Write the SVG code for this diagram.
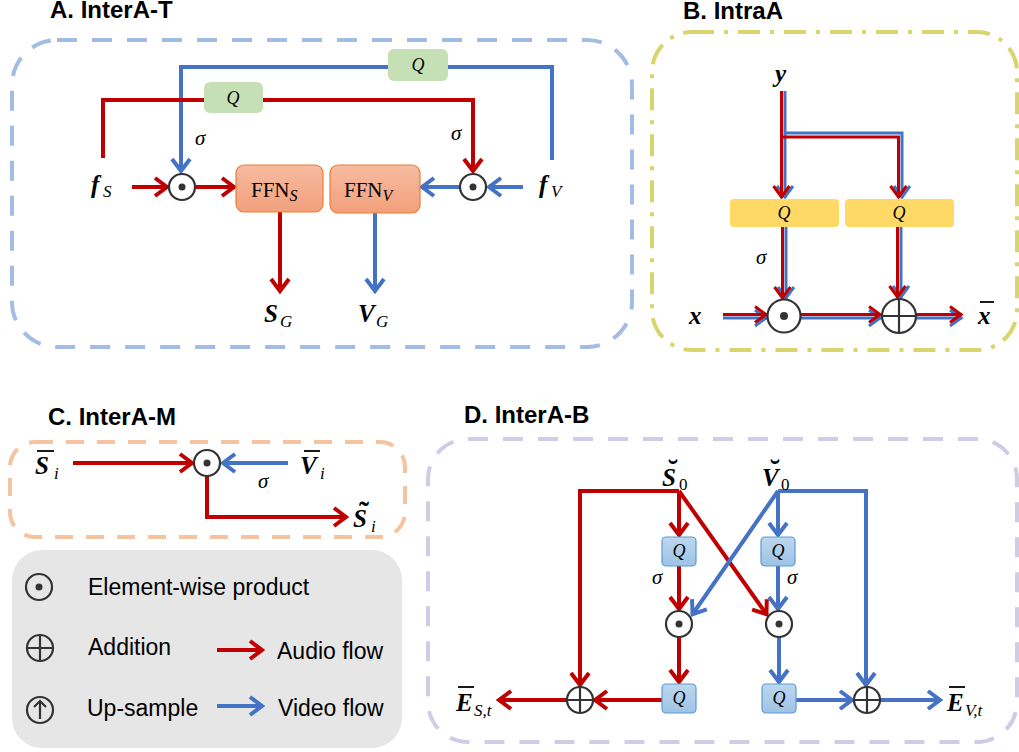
<svg xmlns="http://www.w3.org/2000/svg" width="1019" height="752" viewBox="0 0 1019 752">
  <style>
    .title { font-family: "Liberation Sans", Arial, sans-serif; font-weight: bold; font-size: 24px; fill: #000; }
    .legend { font-family: "Liberation Sans", Arial, sans-serif; font-size: 23px; fill: #000; }
    .math { font-family: "Liberation Serif", "DejaVu Serif", serif; font-style: italic; font-weight: bold; font-size: 25px; fill: #000; }
    .sub { font-family: "Liberation Serif", "DejaVu Serif", serif; font-style: italic; font-weight: normal; font-size: 17px; fill: #000; }
    .subr { font-family: "Liberation Serif", "DejaVu Serif", serif; font-style: normal; font-size: 17px; fill: #000; }
    .acc { font-family: "Liberation Serif", "DejaVu Serif", serif; font-weight: bold; font-size: 30px; fill: #000; text-anchor: middle; }
    .sig { font-family: "Liberation Serif", "DejaVu Serif", serif; font-style: italic; font-size: 21px; fill: #000; }
    .q { font-family: "Liberation Serif", "DejaVu Serif", serif; font-style: italic; font-size: 18px; fill: #000; text-anchor: middle; }
    .ffn { font-family: "Liberation Serif", "DejaVu Serif", serif; font-size: 21px; fill: #000; }
    .red { fill: none; stroke: #C00000; stroke-width: 4; }
    .blue { fill: none; stroke: #4472C4; stroke-width: 4; }
    .red3 { fill: none; stroke: #C00000; stroke-width: 3; }
    .blue3 { fill: none; stroke: #4472C4; stroke-width: 3; }
    .op { fill: #fff; stroke: #333; stroke-width: 2.2; }
    .opl { fill: none; stroke: #333; stroke-width: 2.2; }
    .dot { fill: #333; }
    .bar { stroke: #000; stroke-width: 1.8; }
    .gq { fill: #C5E0B4; }
    .yq { fill: #FFD966; }
    .bq { fill: url(#bqFill); stroke: #5B9BD5; stroke-width: 1.2; }
    .ffnbox { fill: url(#ffnFill); stroke: #ED7D31; stroke-width: 1.2; }
  </style>
  <defs>
    <linearGradient id="ffnFill" x1="0" y1="0" x2="0" y2="1">
      <stop offset="0" stop-color="#F6BBA0"/>
      <stop offset="1" stop-color="#F3A07C"/>
    </linearGradient>
    <linearGradient id="bqFill" x1="0" y1="0" x2="0" y2="1">
      <stop offset="0" stop-color="#BDD7EE"/>
      <stop offset="1" stop-color="#9DC3E6"/>
    </linearGradient>
    <marker id="mr" viewBox="-16 -11 18 22" refX="0" refY="0" markerWidth="18" markerHeight="22" markerUnits="userSpaceOnUse" orient="auto">
      <path d="M-13,-9 L-1,0 L-13,9" fill="none" stroke="#C00000" stroke-width="4"/>
    </marker>
    <marker id="mb" viewBox="-16 -11 18 22" refX="0" refY="0" markerWidth="18" markerHeight="22" markerUnits="userSpaceOnUse" orient="auto">
      <path d="M-13,-9 L-1,0 L-13,9" fill="none" stroke="#4472C4" stroke-width="4"/>
    </marker>
    <marker id="mr3" viewBox="-16 -11 18 22" refX="0" refY="0" markerWidth="18" markerHeight="22" markerUnits="userSpaceOnUse" orient="auto">
      <path d="M-12,-8 L-1,0 L-12,8" fill="none" stroke="#C00000" stroke-width="3"/>
    </marker>
    <marker id="mb3" viewBox="-16 -11 18 22" refX="0" refY="0" markerWidth="18" markerHeight="22" markerUnits="userSpaceOnUse" orient="auto">
      <path d="M-12,-8 L-1,0 L-12,8" fill="none" stroke="#4472C4" stroke-width="3"/>
    </marker>
  </defs>

  <!-- ===== Panel A: InterA-T ===== -->
  <g id="panelA">
    <text class="title" x="50" y="18">A. InterA-T</text>
    <rect x="12" y="40" width="620" height="307" rx="45" fill="none" stroke="#A3BCE3" stroke-width="4" stroke-dasharray="20 15"/>
  </g>
  <g id="A-connectors">
    <path class="blue" d="M552,160 V67 H181 V172" marker-end="url(#mb)"/>
    <path class="red" d="M103,158 V100 H473 V172" marker-end="url(#mr)"/>
    <path class="red" d="M132,187 H168" marker-end="url(#mr)"/>
    <path class="red" d="M196,187 H235" marker-end="url(#mr)"/>
    <path class="blue" d="M460,187 H421" marker-end="url(#mb)"/>
    <path class="blue" d="M523,187 H488" marker-end="url(#mb)"/>
    <path class="red" d="M280,212 V292" marker-end="url(#mr)"/>
    <path class="blue" d="M375,213 V292" marker-end="url(#mb)"/>
  </g>
  <g id="A-qv">
    <rect class="gq" x="388" y="49" width="60" height="32" rx="6"/>
    <text class="q" x="418" y="71">Q</text>
  </g>
  <g id="A-qs">
    <rect class="gq" x="204" y="82" width="59" height="31" rx="6"/>
    <text class="q" x="233" y="104">Q</text>
  </g>
  <g id="A-sigma">
    <text class="sig" x="195" y="145">σ</text>
    <text class="sig" x="451" y="140">σ</text>
  </g>
  <g id="A-fs">
    <text class="math" x="91" y="193" font-size="27">f</text>
    <text class="sub" x="103" y="197">S</text>
  </g>
  <g id="A-fv">
    <text class="math" x="539" y="193" font-size="27">f</text>
    <text class="sub" x="551" y="197">V</text>
  </g>
  <g id="A-prodS">
    <circle class="op" cx="182" cy="187" r="13"/>
    <circle class="dot" cx="182" cy="187" r="3.5"/>
  </g>
  <g id="A-prodV">
    <circle class="op" cx="473" cy="187" r="13"/>
    <circle class="dot" cx="473" cy="187" r="3.5"/>
  </g>
  <g id="A-ffnS">
    <rect class="ffnbox" x="236" y="165" width="87" height="47" rx="8"/>
    <text class="ffn" x="251" y="197">FFN<tspan font-style="italic" font-size="16" dy="4">S</tspan></text>
  </g>
  <g id="A-ffnV">
    <rect class="ffnbox" x="330" y="165" width="90" height="48" rx="8"/>
    <text class="ffn" x="344" y="197">FFN<tspan font-style="italic" font-size="16" dy="4">V</tspan></text>
  </g>
  <g id="A-sg">
    <text class="math" x="264" y="322">S</text>
    <text class="sub" x="280" y="327">G</text>
  </g>
  <g id="A-vg">
    <text class="math" x="358" y="322">V</text>
    <text class="sub" x="376" y="327">G</text>
  </g>

  <!-- ===== Panel B: IntraA ===== -->
  <g id="panelB">
    <text class="title" x="683" y="19">B. IntraA</text>
    <rect x="652" y="32" width="365" height="318" rx="40" fill="none" stroke="#D8D56C" stroke-width="4" stroke-dasharray="22 10 4 10"/>
  </g>
  <g id="B-connectors">
    <path class="blue3" d="M785,91 V198" marker-end="url(#mb3)"/>
    <path class="red3" d="M781.5,91 V198" marker-end="url(#mr3)"/>
    <path class="blue3" d="M785,133 H902 V198" marker-end="url(#mb3)"/>
    <path class="red3" d="M783,137 H898.5 V198" marker-end="url(#mr3)"/>
    <path class="blue3" d="M786,227 V299" marker-end="url(#mb3)"/>
    <path class="red3" d="M782.5,227 V299" marker-end="url(#mr3)"/>
    <path class="blue3" d="M901,227 V298" marker-end="url(#mb3)"/>
    <path class="red3" d="M897.5,227 V298" marker-end="url(#mr3)"/>
    <path class="blue3" d="M723,318 H767" marker-end="url(#mb3)"/>
    <path class="red3" d="M723,314.5 H767" marker-end="url(#mr3)"/>
    <path class="blue3" d="M801,318 H881" marker-end="url(#mb3)"/>
    <path class="red3" d="M801,314.5 H881" marker-end="url(#mr3)"/>
    <path class="blue3" d="M916,318 H962" marker-end="url(#mb3)"/>
    <path class="red3" d="M916,314.5 H962" marker-end="url(#mr3)"/>
  </g>
  <g id="B-y"><text class="math" x="775" y="82">y</text></g>
  <g id="B-x"><text class="math" x="689" y="324">x</text></g>
  <g id="B-xbar">
    <text class="math" x="978" y="324">x</text>
    <line class="bar" x1="980" y1="302" x2="994" y2="302"/>
  </g>
  <g id="B-q1">
    <rect class="yq" x="730" y="199" width="109" height="28" rx="4"/>
    <text class="q" x="784" y="219">Q</text>
  </g>
  <g id="B-q2">
    <rect class="yq" x="845" y="199" width="109" height="28" rx="4"/>
    <text class="q" x="899" y="219">Q</text>
  </g>
  <g id="B-sigma"><text class="sig" x="756" y="264">σ</text></g>
  <g id="B-prod">
    <circle class="op" cx="784" cy="316" r="16.5"/>
    <circle class="dot" cx="784" cy="316" r="4"/>
  </g>
  <g id="B-add">
    <circle class="op" cx="899" cy="316" r="17"/>
    <path class="opl" d="M882,316 H916 M899,299 V333"/>
  </g>

  <!-- ===== Panel C: InterA-M ===== -->
  <g id="panelC">
    <text class="title" x="48" y="425">C. InterA-M</text>
    <rect x="10" y="442" width="395" height="95" rx="25" fill="none" stroke="#F5C3A0" stroke-width="4" stroke-dasharray="18 13"/>
  </g>
  <g id="C-connectors">
    <path class="red" d="M73,463 H193" marker-end="url(#mr)"/>
    <path class="blue" d="M288,463 H222" marker-end="url(#mb)"/>
    <path class="red" d="M207,476 V517 H347" marker-end="url(#mr)"/>
  </g>
  <g id="C-sbar">
    <text class="math" x="35" y="474">S</text>
    <line class="bar" x1="37" y1="451" x2="54" y2="451"/>
    <text class="sub" x="54" y="479">i</text>
  </g>
  <g id="C-vbar">
    <text class="math" x="300" y="474">V</text>
    <line class="bar" x1="304" y1="451" x2="320" y2="451"/>
    <text class="sub" x="320" y="479">i</text>
  </g>
  <g id="C-prod">
    <circle class="op" cx="207" cy="463" r="13"/>
    <circle class="dot" cx="207" cy="463" r="3.5"/>
  </g>
  <g id="C-sigma"><text class="sig" x="258" y="488">σ</text></g>
  <g id="C-stilde">
    <text class="math" x="353" y="527">S</text>
    <text class="acc" x="364" y="522">˜</text>
    <text class="sub" x="371" y="532">i</text>
  </g>

  <!-- ===== Legend ===== -->
  <g id="legend">
    <rect x="12" y="550" width="390" height="198" rx="30" fill="#E6E6E6"/>
    <circle class="opl" cx="39" cy="587" r="13"/>
    <circle class="dot" cx="39" cy="587" r="3.5"/>
    <text class="legend" x="88" y="595">Element-wise product</text>
    <circle class="opl" cx="40" cy="648" r="13"/>
    <path class="opl" d="M27,648 H53 M40,635 V661"/>
    <text class="legend" x="88" y="655">Addition</text>
    <circle class="opl" cx="40" cy="710" r="13"/>
    <path class="opl" d="M40,719 V702 M34,707 L40,701 L46,707"/>
    <text class="legend" x="87" y="716">Up-sample</text>
    <path class="red" d="M217,650 H263" marker-end="url(#mr)"/>
    <text class="legend" x="277" y="659">Audio flow</text>
    <path class="blue" d="M217,706 H263" marker-end="url(#mb)"/>
    <text class="legend" x="278" y="716">Video flow</text>
  </g>

  <!-- ===== Panel D: InterA-B ===== -->
  <g id="panelD">
    <text class="title" x="464" y="423">D. InterA-B</text>
    <rect x="428" y="439" width="589" height="303" rx="40" fill="none" stroke="#D0CCE8" stroke-width="4" stroke-dasharray="20 15"/>
  </g>
  <g id="D-connectors">
    <path class="red" d="M679,491 H580 V686" marker-end="url(#mr)"/>
    <path class="red" d="M679,491 V536" marker-end="url(#mr)"/>
    <path class="red" d="M679,491 L767,615" marker-end="url(#mr)"/>
    <path class="red" d="M679,566 V610" marker-end="url(#mr)"/>
    <path class="red" d="M679,637 V683" marker-end="url(#mr)"/>
    <path class="red" d="M662,700 H594" marker-end="url(#mr)"/>
    <path class="red" d="M567,700 H498" marker-end="url(#mr)"/>
    <path class="blue" d="M778,491 H866 V686" marker-end="url(#mb)"/>
    <path class="blue" d="M778,491 V536" marker-end="url(#mb)"/>
    <path class="blue" d="M778,491 L692,615" marker-end="url(#mb)"/>
    <path class="blue" d="M778,566 V610" marker-end="url(#mb)"/>
    <path class="blue" d="M779,637 V683" marker-end="url(#mb)"/>
    <path class="blue" d="M796,700 H853" marker-end="url(#mb)"/>
    <path class="blue" d="M880,700 H941" marker-end="url(#mb)"/>
  </g>
  <g id="D-s0">
    <text class="math" x="662" y="486">S</text>
    <text class="acc" x="673" y="480">˘</text>
    <text class="subr" x="679" y="490">0</text>
  </g>
  <g id="D-v0">
    <text class="math" x="762" y="486">V</text>
    <text class="acc" x="775" y="480">˘</text>
    <text class="subr" x="781" y="490">0</text>
  </g>
  <g id="D-qs1">
    <rect class="bq" x="662" y="537" width="34" height="29" rx="4"/>
    <text class="q" x="679" y="557">Q</text>
  </g>
  <g id="D-qv1">
    <rect class="bq" x="761" y="537" width="34" height="29" rx="4"/>
    <text class="q" x="778" y="557">Q</text>
  </g>
  <g id="D-sigma">
    <text class="sig" x="652" y="584">σ</text>
    <text class="sig" x="787" y="584">σ</text>
  </g>
  <g id="D-prodS">
    <circle class="op" cx="679" cy="624" r="13"/>
    <circle class="dot" cx="679" cy="624" r="3.5"/>
  </g>
  <g id="D-prodV">
    <circle class="op" cx="779" cy="624" r="13"/>
    <circle class="dot" cx="779" cy="624" r="3.5"/>
  </g>
  <g id="D-qs2">
    <rect class="bq" x="662" y="684" width="34" height="29" rx="4"/>
    <text class="q" x="679" y="704">Q</text>
  </g>
  <g id="D-qv2">
    <rect class="bq" x="762" y="684" width="34" height="29" rx="4"/>
    <text class="q" x="779" y="704">Q</text>
  </g>
  <g id="D-addS">
    <circle class="op" cx="580" cy="700" r="13"/>
    <path class="opl" d="M567,700 H593 M580,687 V713"/>
  </g>
  <g id="D-addV">
    <circle class="op" cx="867" cy="700" r="13"/>
    <path class="opl" d="M854,700 H880 M867,687 V713"/>
  </g>
  <g id="D-es">
    <text class="math" x="456" y="711">E</text>
    <line class="bar" x1="458" y1="687" x2="474" y2="687"/>
    <text class="sub" x="474" y="716">S,t</text>
  </g>
  <g id="D-ev">
    <text class="math" x="947" y="711">E</text>
    <line class="bar" x1="949" y1="687" x2="965" y2="687"/>
    <text class="sub" x="965" y="716">V,t</text>
  </g>
</svg>
